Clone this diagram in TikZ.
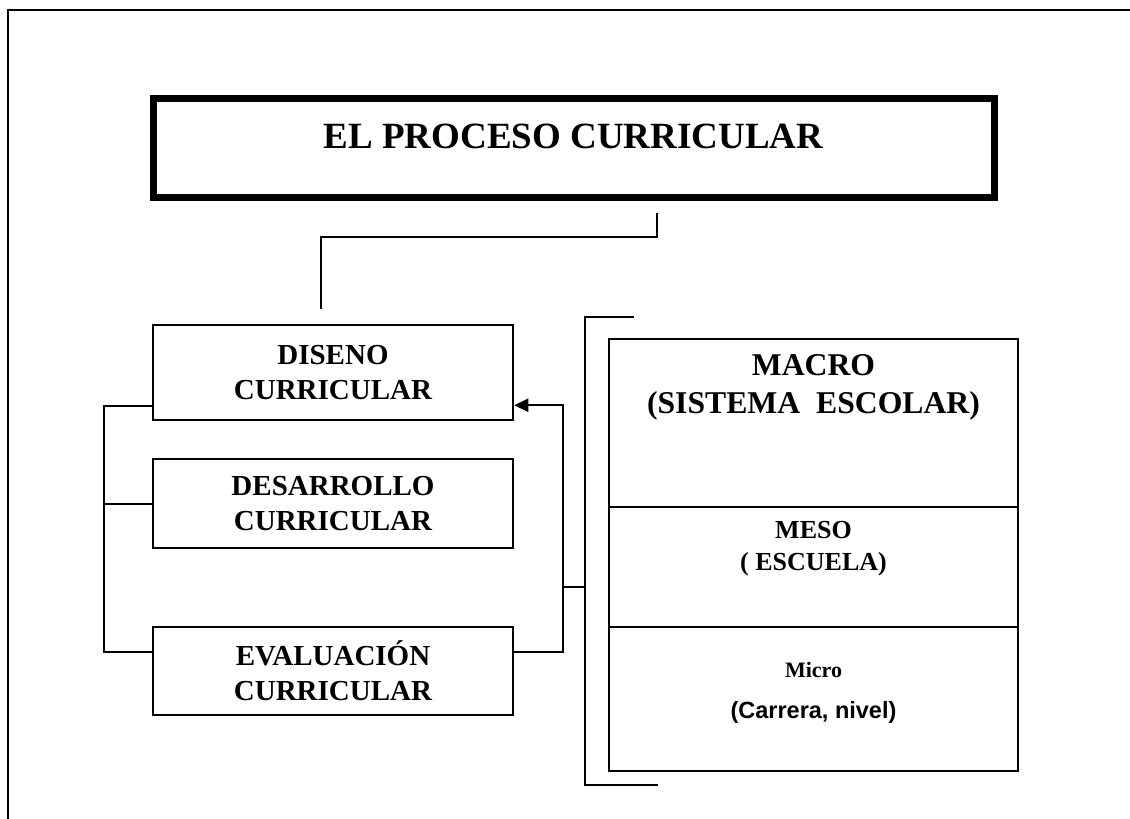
\documentclass[tikz,border=0pt]{standalone}
\usepackage{fontspec}
\setmainfont{Liberation Serif}
\newfontfamily\arialfont{Liberation Sans}
\usetikzlibrary{arrows.meta}

\begin{document}
\begin{tikzpicture}[x=1pt, y=-1pt,
        box/.style={draw, line width=2.5pt, minimum width=360pt, inner sep=0pt, align=center,
            font=\fontsize{29}{35}\selectfont\bfseries},
        level/.style={draw, line width=2.5pt, minimum width=409pt, inner sep=0pt},
        link/.style={line width=2pt}]
        \useasboundingbox (0,0) rectangle (1130,819);

        % Draw the outer frame
        \draw[line width=2pt] (8,819) -- (8,10) -- (1130,10);

        % Draw the title
        \node[draw, line width=7pt, minimum width=841pt, minimum height=99pt] (title) at (573.5,148) {};
        \node[font=\fontsize{37}{44}\selectfont\bfseries, anchor=base] (titletext) at (573.5,148) {EL PROCESO CURRICULAR};

        % Draw the three stages
        \node[box, minimum height=95pt] (diseno) at (333,372.5) {DISENO\\CURRICULAR};
        \node[box, minimum height=89pt] (desarrollo) at (333,503.5) {DESARROLLO\\CURRICULAR};
        \node[box, minimum height=88pt] (evaluacion) at (333,671) {EVALUACIÓN\\CURRICULAR};

        % Draw the levels
        \node[level, minimum height=168pt] (macro) at (813.5,423) {};
        \node[level, minimum height=120pt] (meso) at (813.5,567) {};
        \node[level, minimum height=144pt] (micro) at (813.5,699) {};

        % Label the levels
        \node[font=\fontsize{31.7}{38}\selectfont\bfseries, align=center] (macrotxt) at (813.5,387) {MACRO\\(SISTEMA\ \ ESCOLAR)};
        \node[font=\fontsize{26}{32}\selectfont\bfseries, align=center] (mesotxt) at (813.5,549) {MESO\\(\ ESCUELA)};
        \node[font=\fontsize{22}{26}\selectfont\bfseries] (microtxt) at (813.5,670) {Micro};
        \node[font=\arialfont\fontsize{23.5}{28}\selectfont\bfseries] (carrera) at (813.5,712) {(Carrera, nivel)};

        % Connect the title with the stages
        \coordinate (t1) at (657,213);
        \coordinate (t2) at (321,309);
        \draw[link] (t1) -- ++(0,24) -| (t2);

        % Bracket on the left
        \draw[link] ([yshift=15pt]diseno.south west) -- ++(-48,0) |- ([yshift=64pt]evaluacion.south west);
        \draw[link] (desarrollo.west) -- ++(-48,0);

        % Feedback arrow
        \draw[link, -{Triangle[length=14pt, width=13pt]}] ([yshift=64pt]evaluacion.south east) -- ++(49,0) |- ([yshift=16pt]diseno.south east);

        % Bracket round the levels
        \coordinate (b1) at (634,317);
        \coordinate (b2) at (658,785);
        \coordinate (j) at (585,587);
        \draw[link] (b1) -- ++(-49,0) |- (b2);
        \draw[link] (j) -- ++(-22,0);
    \end{tikzpicture}
\end{document}
